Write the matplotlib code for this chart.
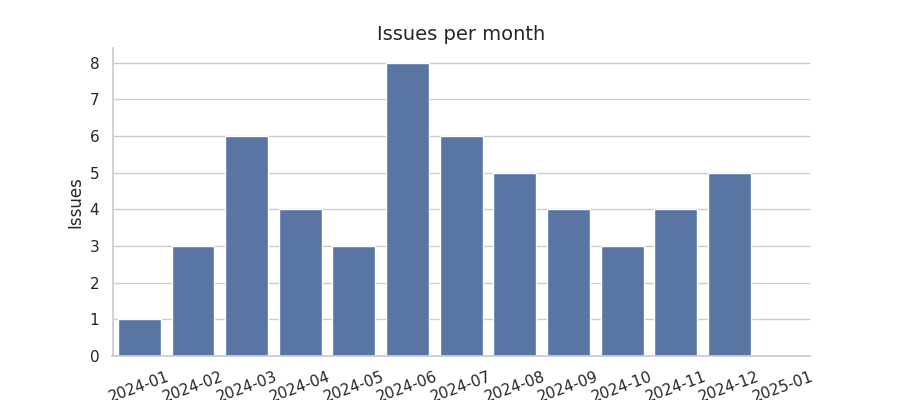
import matplotlib
matplotlib.use("Agg")
import matplotlib.pyplot as plt
import seaborn as sns

months = ["2024-01", "2024-02", "2024-03", "2024-04", "2024-05", "2024-06", "2024-07",
          "2024-08", "2024-09", "2024-10", "2024-11", "2024-12", "2025-01"]
issues = [1, 3, 6, 4, 3, 8, 6, 5, 4, 3, 4, 5, 0]

sns.set_theme(style="whitegrid")

fig, ax = plt.subplots(figsize=(9, 4), dpi=100)
sns.barplot(x=months, y=issues, color=sns.color_palette("deep")[0], ax=ax)
ax.set_title("Issues per month", fontsize=14)
ax.set_ylabel("Issues")
ax.set_xlabel("")
ax.tick_params(axis="x", rotation=20)
sns.despine(ax=ax)
plt.savefig("out.png")
